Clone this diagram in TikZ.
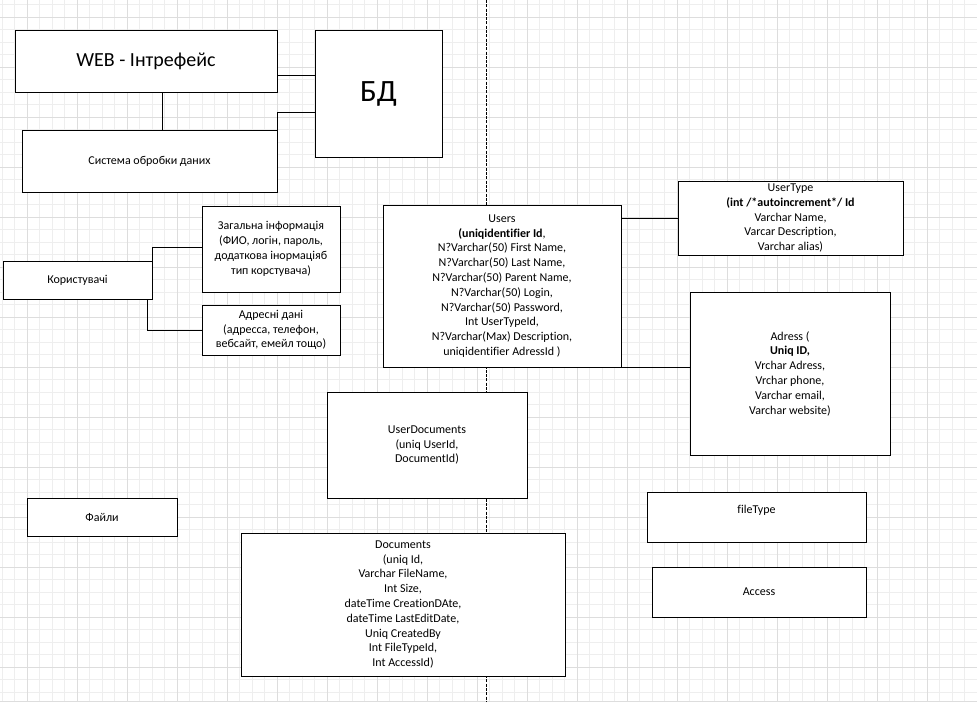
\documentclass[tikz,border=0pt]{standalone}
\usepackage{fontspec}
\setmainfont{Carlito}[Ligatures=NoCommon]
\tikzset{
    entity/.style={draw, fill=white, line width=1pt, align=center, inner sep=0pt,
        font=\fontsize{12}{14.8}\selectfont},
    link/.style={line width=1pt},
    gridminor/.style={gray!13, line width=0.75pt},
    gridmajor/.style={gray!27, line width=0.75pt},
}
\begin{document}
\begin{tikzpicture}[x=1pt, y=-1pt]
        \useasboundingbox [fill=white] (0, 0) rectangle (977, 709);
        % grid paper
        \foreach \i in {0,...,78} \draw [gridminor] (2+12.5*\i, 0) -- (2+12.5*\i, 701);
        \foreach \i in {0,...,55} \draw [gridminor] (0, 4.5+12.5*\i) -- (977, 4.5+12.5*\i);
        \foreach \i in {0,...,19} \draw [gridmajor] (27+50*\i, 0) -- (27+50*\i, 701);
        \foreach \i in {0,...,13} \draw [gridmajor] (0, 17+50*\i) -- (977, 17+50*\i);
        \draw [gridmajor] (0, 701) -- (977, 701);
        \draw [line width=0.9pt, dash pattern=on 3pt off 1.3pt] (486, 0) -- (486, 701);

        % system overview
        \node [entity, minimum width=262, minimum height=61, font=\fontsize{20}{24}\selectfont] (web) at (146, 61.5) {WEB - Інтрефейс};
        \node [entity, minimum width=127, minimum height=126, font=\fontsize{31}{36}\selectfont] (bd) at (378.5, 94) {БД};
        \node [entity, minimum width=255, minimum height=62] (sys) at (149.5, 161) {Система обробки даних};
        \draw [link] ([yshift=-14.5pt]web.east) -- ([yshift=-14.5pt]web.east -| bd.west);
        \draw [link] ([xshift=16pt]web.south) -- ([xshift=16pt]web.south |- sys.north);
        \draw [link] ([yshift=-18pt]bd.west) -| (sys.north east);

        % users
        \node [entity, minimum width=149, minimum height=38] (users) at (77.5, 280) {Користувачі};
        \node [entity, minimum width=138, minimum height=86] (general) at (271, 249) {Загальна інформація\\(ФИО, логін, пароль,\\додаткова інормаціяб\\тип корстувача)};
        \node [entity, minimum width=138, minimum height=50] (addr) at (271, 330) {Адресні дані\\(адресса, телефон,\\вебсайт, емейл тощо)};
        \draw [link] ([yshift=2pt]general.west) -| (users.north east);
        \draw [link] ([xshift=-5pt]users.south east) |- (addr.west);

        \node [entity, minimum width=150, minimum height=38] (files) at (102, 517) {Файли};

        % tables
        \node [entity, minimum width=238, minimum height=162] (usertab) at (502, 286) {Users\\\textbf{(uniqidentifier Id},\\N?Varchar(50) First Name,\\N?Varchar(50) Last Name,\\N?Varchar(50) Parent Name,\\N?Varchar(50) Login,\\N?Varchar(50) Password,\\Int UserTypeId,\\N?Varchar(Max) Description,\\uniqidentifier AdressId )};
        \node [entity, minimum width=225, minimum height=74] (usertype) at (790.5, 218) {UserType\\\textbf{(int /*autoincrement*/ Id}\\Varchar Name,\\Varcar Description,\\Varchar alias)};
        \node [entity, minimum width=200, minimum height=163] (adress) at (790, 373.5) {Adress (\\\textbf{Uniq ID,}\\Vrchar Adress,\\Vrchar phone,\\Varchar email,\\Varchar website)};
        \draw [link] (usertype.west) -- (usertype.west -| usertab.east);
        \draw [link] (usertab.south east) -- (usertab.south east -| adress.west);

        \node [entity, minimum width=200, minimum height=106] (userdocs) at (427, 445) {UserDocuments\\(uniq UserId,\\DocumentId)};
        \node [entity, minimum width=324, minimum height=143] (docs) at (403, 604.5) {Documents\\(uniq Id,\\Varchar FileName,\\Int Size,\\dateTime CreationDAte,\\dateTime LastEditDate,\\Uniq CreatedBy\\Int FileTypeId,\\Int AccessId)};

        \node [entity, minimum width=219, minimum height=50, label={[anchor=north, yshift=-10pt, font=\fontsize{12}{14.8}\selectfont]north:fileType}] (filetype) at (756.5, 517) {};
        \node [entity, minimum width=214, minimum height=50] (access) at (759, 592) {Access};
\end{tikzpicture}
\end{document}
